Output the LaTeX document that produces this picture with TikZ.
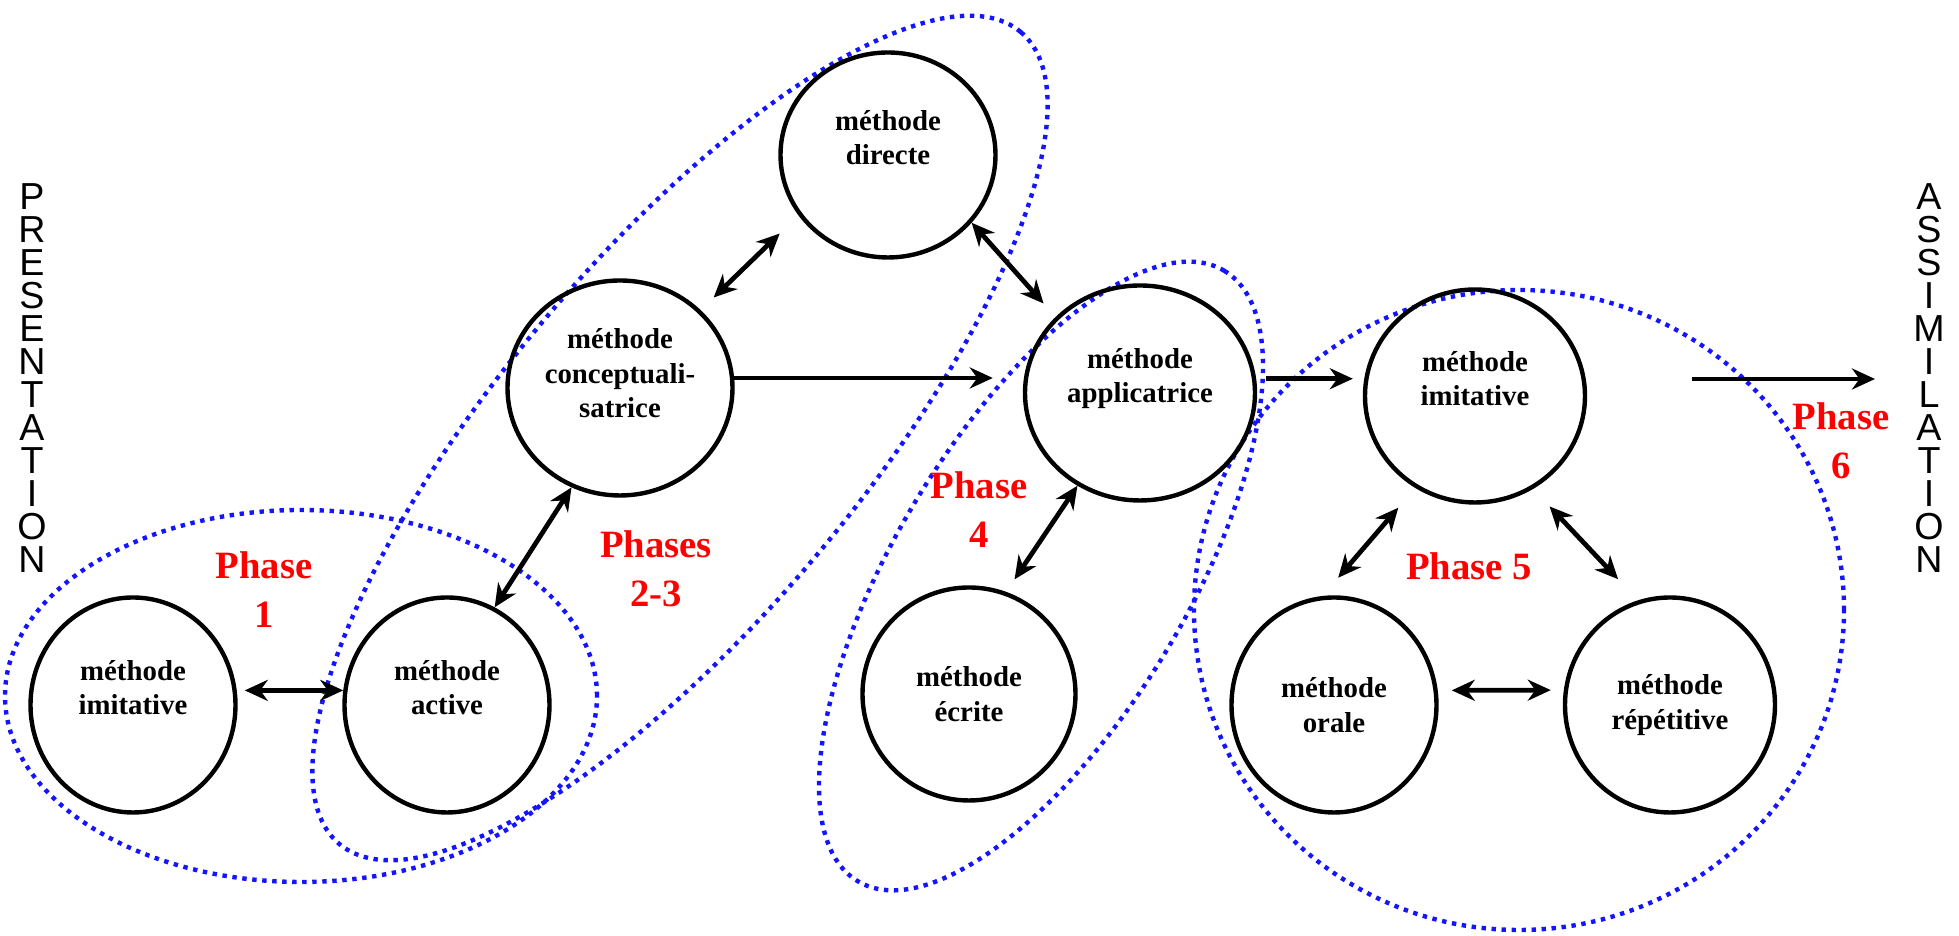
\documentclass[tikz,border=0pt]{standalone}
\usepackage{fontspec}
\setmainfont{Liberation Serif}
\newfontfamily\arialfont{Liberation Sans}
\usetikzlibrary{shapes.geometric, arrows.meta}

\definecolor{zoneblue}{RGB}{20,20,255}

\begin{document}
\begin{tikzpicture}[
        methode/.style = {ellipse, draw, line width = 1.25pt, minimum width = 2.05cm, minimum height = 2.15cm, inner sep = 0pt, align = center, font = \fontsize{8.2}{9.9}\selectfont\bfseries},
        phase/.style = {text = red, align = center, font = \fontsize{11}{14}\selectfont\bfseries},
        vword/.style = {align = center, font = \arialfont\fontsize{10.7}{9.4}\selectfont},
        zone/.style = {draw = zoneblue, line width = 1.25pt, dash pattern = on 1.25pt off 1.6pt},
        link/.style = {line width = 1.35pt, {Stealth[length = 2.3mm, width = 2.1mm]}-{Stealth[length = 2.3mm, width = 2.1mm]}},
        flow/.style = {line width = 1.35pt, -{Stealth[length = 2.3mm, width = 2.1mm]}}
    ]
        \useasboundingbox (0,0) rectangle (19.59,9.36);
        
        \draw[zone] (3.01,2.40) ellipse [x radius = 2.96, y radius = 1.86];
        \draw[zone, rotate around = {50:(6.80,4.98)}] (6.80,4.98) ellipse [x radius = 5.30, y radius = 1.80];
        \draw[zone, rotate around = {59:(10.41,3.60)}] (10.41,3.60) ellipse [x radius = 3.56, y radius = 1.46];
        \draw[zone] (15.19,3.26) ellipse [x radius = 3.25, y radius = 3.20];
        
        \node[methode] (imL) at (1.33,2.31) {méthode\\imitative\\};
        \node[methode] (act) at (4.47,2.31) {méthode\\active\\};
        \node[methode, minimum width = 2.25cm] (con) at (6.20,5.48) {méthode\\conceptuali-\\satrice\\[-0.5mm]};
        \node[methode, minimum width = 2.15cm, minimum height = 2.05cm] (dir) at (8.88,7.81) {méthode\\directe\\};
        \node[methode, minimum width = 2.3cm] (app) at (11.40,5.43) {méthode\\applicatrice\\};
        \node[methode, minimum width = 2.13cm, minimum height = 2.13cm] (ecr) at (9.69,2.42) {méthode\\écrite};
        \node[methode, minimum width = 2.2cm, minimum height = 2.13cm] (imR) at (14.75,5.40) {méthode\\imitative\\};
        \node[methode] (ora) at (13.34,2.31) {méthode\\orale};
        \node[methode, minimum width = 2.1cm] (rep) at (16.70,2.31) {méthode\\répétitive};
        
        \node[phase] (ph1) at (2.64,3.46) {Phase\\1};
        \node[phase] (ph23) at (6.56,3.67) {Phases\\2-3};
        \node[phase] (ph4) at (9.79,4.26) {Phase\\4};
        \node[phase] (ph5) at (14.69,3.70) {Phase 5};
        \node[phase] (ph6) at (18.41,4.95) {Phase\\6};
        
        \node[vword] (pres) at (0.32,5.58) {P\\R\\E\\S\\E\\N\\T\\A\\T\\I\\O\\N};
        \node[vword] (assim) at (19.29,5.58) {A\\S\\S\\I\\M\\I\\L\\A\\T\\I\\O\\N};
        
        \coordinate (fin) at (18.75,5.57);
        
        \draw[link, shorten <= 0.8mm] (imL.8) -- (act.172);
        \draw[link] (act.64) -- (con.-116);
        \draw[link, shorten <= 1.8mm, shorten >= 2.6mm] (con.44) -- (dir.214);
        \draw[link, shorten >= 1.8mm] (dir.-39) -- (app.138);
        \draw[flow, shorten >= 3mm] (con.5) -- (con.5 -| app.west);
        \draw[link, shorten >= 1.5mm] (app.236) -- (ecr.70);
        \draw[flow, shorten <= 1mm, shorten >= 1mm] (app.7) -- (app.7 -| imR.west);
        \draw[flow, shorten <= 10.5mm] (imR.east |- fin) -- (fin);
        \draw[link, shorten <= 2.6mm, shorten >= 2.4mm] (imR.237) -- (ora.96);
        \draw[link, shorten <= 2.4mm, shorten >= 2.9mm] (imR.-58) -- (rep.107);
        \draw[link, shorten <= 1.4mm, shorten >= 1.3mm] (ora.8) -- (rep.172);
    \end{tikzpicture}
\end{document}
